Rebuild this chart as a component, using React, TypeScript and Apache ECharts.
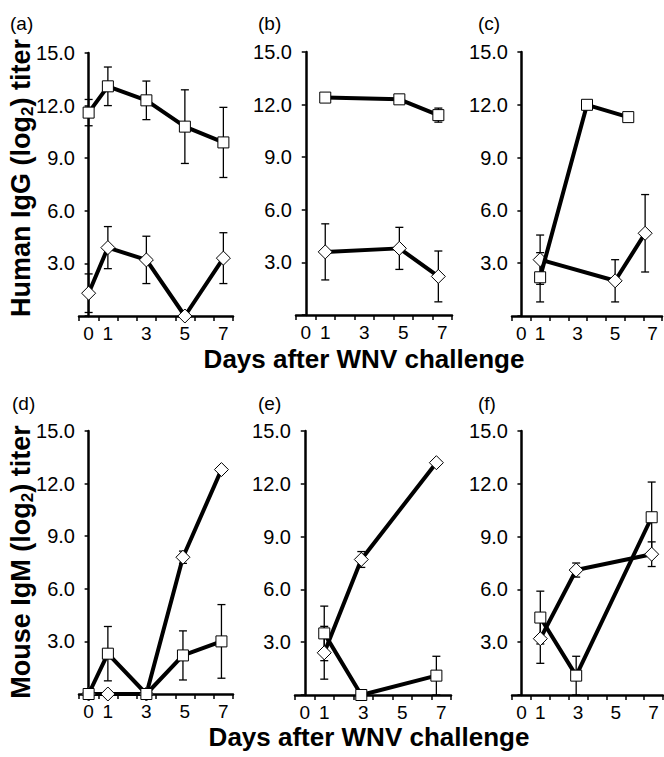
import React, { useEffect, useRef } from "react";
import * as echarts from "echarts";

// [day, mean, error]
const aSquare = [[0, 11.6, 0.75], [1, 13.1, 1.1], [3, 12.3, 1.1], [5, 10.8, 2.1], [7, 9.9, 2.0]];
const aDiamond = [[0, 1.3, 1.1], [1, 3.9, 1.2], [3, 3.2, 1.35], [5, 0, 0], [7, 3.3, 1.45]];
const bSquare = [[1, 12.4, 0.15], [4.8, 12.3, 0.15], [6.8, 11.4, 0.4]];
const bDiamond = [[1, 3.6, 1.6], [4.8, 3.8, 1.2], [6.8, 2.2, 1.45]];
const cSquare = [[1, 2.2, 1.4], [3.5, 12.0, 0], [5.7, 11.3, 0]];
const cDiamond = [[1, 3.2, 1.4], [5, 2.0, 1.2], [6.6, 4.7, 2.2]];
const dSquare = [[0, 0, 0], [1, 2.3, 1.55], [3, 0, 0], [4.9, 2.2, 1.4], [6.9, 3.0, 2.1]];
const dDiamond = [[0, 0, 0], [1, 0, 0], [3, 0, 0], [4.9, 7.8, 0.35], [6.9, 12.8, 0]];
const eSquare = [[1, 3.5, 1.55], [2.9, 0, 0], [6.75, 1.1, 1.1]];
const eDiamond = [[1, 2.4, 1.5], [2.9, 7.7, 0.45], [6.75, 13.2, 0]];
const fSquare = [[1, 4.4, 1.5], [2.9, 1.1, 1.1], [6.9, 10.1, 2.0]];
const fDiamond = [[1, 3.2, 1.4], [2.9, 7.1, 0.4], [6.9, 8.0, 0.7]];

const dayCategories = ["0", "1", "2", "3", "4", "5", "6", "7"];
const xTickLabels = ["0", "1", "3", "5", "7"];
const yTicks = [0, 3, 6, 9, 12, 15];

const FONT = "'Liberation Sans', Arial, Helvetica, sans-serif";

const panels = [
  { name: "(a)", sq: aSquare, dm: aDiamond, grid: { left: 79, top: 53, width: 154, height: 263 }, lab: [10, 23] },
  { name: "(b)", sq: bSquare, dm: bDiamond, grid: { left: 296, top: 52, width: 156, height: 263 }, lab: [258, 23] },
  { name: "(c)", sq: cSquare, dm: cDiamond, grid: { left: 512, top: 52, width: 150, height: 264 }, lab: [478, 23] },
  { name: "(d)", sq: dSquare, dm: dDiamond, grid: { left: 79, top: 431, width: 154, height: 263 }, lab: [12, 403] },
  { name: "(e)", sq: eSquare, dm: eDiamond, grid: { left: 295, top: 431, width: 156, height: 264 }, lab: [258, 403] },
  { name: "(f)", sq: fSquare, dm: fDiamond, grid: { left: 512, top: 431, width: 151, height: 264 }, lab: [478, 403] },
];

function errorSeries(arr: number[][], i: number) {
  return {
    type: "custom",
    xAxisIndex: 2 * i + 1,
    yAxisIndex: i,
    z: 2,
    clip: false,
    data: arr.filter((d) => d[2] > 0).map((d) => [d[0], Math.max(0, d[1] - d[2]), d[1] + d[2]]),
    encode: { x: 0, y: [1, 2] },
    renderItem: (params: any, api: any) => {
      const lo = api.coord([api.value(0), api.value(1)]);
      const hi = api.coord([api.value(0), api.value(2)]);
      const w = 4;
      const st = { stroke: "#000", lineWidth: 1.3 };
      return {
        type: "group",
        children: [
          { type: "line", shape: { x1: lo[0], y1: lo[1], x2: hi[0], y2: hi[1] }, style: st },
          { type: "line", shape: { x1: lo[0] - w, y1: lo[1], x2: lo[0] + w, y2: lo[1] }, style: st },
          { type: "line", shape: { x1: hi[0] - w, y1: hi[1], x2: hi[0] + w, y2: hi[1] }, style: st },
        ],
      };
    },
  };
}

function lineSeries(arr: number[][], i: number, symbol: string, size: number, z: number) {
  return {
    type: "line",
    xAxisIndex: 2 * i + 1,
    yAxisIndex: i,
    z,
    clip: false,
    data: arr.map((d) => [d[0], d[1]]),
    symbol,
    symbolSize: size,
    showAllSymbol: true,
    lineStyle: { color: "#000", width: 4 },
    itemStyle: { color: "#fff", borderColor: "#000", borderWidth: 1 },
  };
}

export default function App() {
  const ref = useRef<HTMLDivElement>(null);
  useEffect(() => {
    if (!ref.current) return;
    const chart = echarts.init(ref.current, undefined, { renderer: "svg" });
    const grid: any[] = [];
    const xAxis: any[] = [];
    const yAxis: any[] = [];
    const series: any[] = [];
    const graphic: any[] = [];
    panels.forEach((p, i) => {
      grid.push({ ...p.grid, containLabel: false });
      xAxis.push({
        type: "category",
        gridIndex: i,
        data: dayCategories,
        boundaryGap: true,
        axisLine: { show: true, lineStyle: { color: "#000", width: 2.5 } },
        axisTick: { show: true, interval: 0, length: 5, lineStyle: { color: "#000", width: 1.5 } },
        axisLabel: {
          interval: 0,
          color: "#000",
          fontSize: 19,
          fontFamily: FONT,
          margin: 8,
          formatter: (v: string) => (xTickLabels.includes(v) ? v : ""),
        },
        splitLine: { show: false },
      });
      xAxis.push({ type: "value", gridIndex: i, min: -0.5, max: 7.5, show: false });
      yAxis.push({
        type: "value",
        gridIndex: i,
        min: yTicks[0],
        max: yTicks[yTicks.length - 1],
        interval: 3,
        axisLine: { show: true, lineStyle: { color: "#000", width: 2.5 } },
        axisTick: { show: true, length: 4, lineStyle: { color: "#000", width: 1.5 } },
        axisLabel: {
          color: "#000",
          fontSize: 20,
          fontFamily: FONT,
          margin: 4,
          formatter: (v: number) => (v === 0 ? "" : v.toFixed(1)),
        },
        splitLine: { show: false },
      });
      series.push(errorSeries(p.dm, i));
      series.push(errorSeries(p.sq, i));
      series.push(lineSeries(p.dm, i, "diamond", 14, 3));
      series.push(lineSeries(p.sq, i, "rect", 11, 4));
      graphic.push({
        type: "text",
        x: p.lab[0],
        y: p.lab[1],
        style: { text: p.name, font: `19px ${FONT}`, fill: "#000", verticalAlign: "middle", align: "left" },
      });
    });
    const yTitle = (txt: string, y: number) => ({
      type: "text",
      x: 21,
      y,
      rotation: Math.PI / 2,
      style: {
        text: `{t|${txt.split("|")[0]}}{s|2}{t|${txt.split("|")[1]}}`,
        align: "center",
        verticalAlign: "middle",
        rich: {
          t: { fontSize: 27, fontWeight: "bold", fontFamily: FONT, fill: "#000", lineHeight: 30 },
          s: { fontSize: 17, fontWeight: "bold", fontFamily: FONT, fill: "#000", lineHeight: 14, verticalAlign: "bottom" },
        },
      },
    });
    graphic.push(yTitle("Human IgG (log|) titer", 178));
    graphic.push(yTitle("Mouse IgM (log|) titer", 562));
    const xTitle = (x: number, y: number) => ({
      type: "text",
      x,
      y,
      style: {
        text: "Days after WNV challenge",
        font: `bold 26px ${FONT}`,
        fill: "#000",
        align: "center",
        verticalAlign: "middle",
      },
    });
    graphic.push(xTitle(364, 359));
    graphic.push(xTitle(369, 737));

    chart.setOption({
      animation: false,
      backgroundColor: "#fff",
      grid,
      xAxis,
      yAxis,
      series,
      graphic,
    });
    return () => chart.dispose();
  }, []);
  return (
    <div
      ref={ref}
      style={{ position: "absolute", left: 0, top: 0, width: 664, height: 757, background: "#fff" }}
    />
  );
}
